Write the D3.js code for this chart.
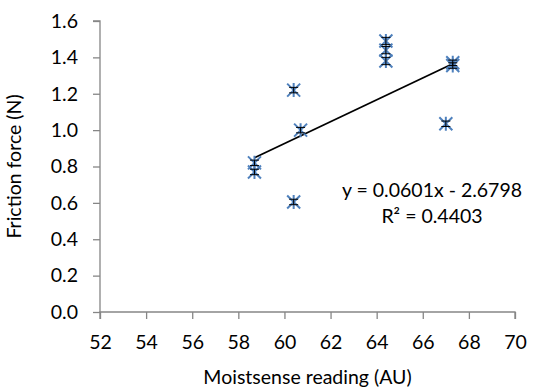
<!DOCTYPE html>
<html>
<head>
<meta charset="utf-8">
<script src="https://cdn.jsdelivr.net/npm/d3@7"></script>
<style>
  html, body { margin: 0; padding: 0; background: #fff; }
  svg text { font-family: Lato, "Open Sans", sans-serif; fill: #000; }
</style>
</head>
<body>
<svg id="chart" width="538" height="392"></svg>
<script>
// Moistsense reading vs friction force, with a linear trendline
const moisture = [58.7, 58.7, 60.4, 60.4, 60.7, 64.4, 64.4, 64.4, 67.3, 67.3, 67.0];
const friction = [0.82, 0.77, 1.22, 0.605, 1.0, 1.49, 1.44, 1.38, 1.37, 1.355, 1.035];
const errorBar = [0.015, 0.015, 0.015, 0.015, 0.015, 0.02, 0.02, 0.02, 0.015, 0.015, 0.015];
const xTicks = [52, 54, 56, 58, 60, 62, 64, 66, 68, 70];
const yTicks = [0, 0.2, 0.4, 0.6, 0.8, 1.0, 1.2, 1.4, 1.6];
const slope = 0.0601, intercept = -2.6798;
const equationText = "y = 0.0601x - 2.6798";
const r2Text = "R² = 0.4403";

const svg = d3.select("#chart");
const x = d3.scaleLinear().domain([52, 70]).range([100, 515]);
const y = d3.scaleLinear().domain([0, 1.6]).range([312, 21]);
const axisColor = "#868686";
const fontSize = 19.5;

// y axis
const yAxis = svg.append("g").attr("transform", `translate(${x(52)},0)`)
  .call(d3.axisLeft(y).tickValues(yTicks).tickFormat(d3.format(".1f")).tickSize(7).tickPadding(15));
// x axis
const xAxis = svg.append("g").attr("transform", `translate(0,${y(0)})`)
  .call(d3.axisBottom(x).tickValues(xTicks).tickFormat(d3.format("d")).tickSize(7).tickPadding(16));

[yAxis, xAxis].forEach(g => {
  g.select(".domain").attr("stroke", axisColor).attr("stroke-width", 1.3);
  g.selectAll(".tick line").attr("stroke", axisColor).attr("stroke-width", 1.3);
  g.selectAll(".tick text").attr("font-size", fontSize).attr("font-family", "Lato, 'Open Sans', sans-serif").attr("fill", "#000");
});
yAxis.selectAll(".domain").attr("d", `M-7,${y(1.6)}H0V${y(0)}`);
xAxis.selectAll(".domain").attr("d", `M${x(52)},7V0H${x(70)}V7`);

// axis titles
svg.append("text").attr("x", (x(52) + x(70)) / 2).attr("y", 384)
  .attr("text-anchor", "middle").attr("font-size", fontSize).text("Moistsense reading (AU)");
svg.append("text").attr("transform", `translate(21,${(y(0) + y(1.6)) / 2}) rotate(-90)`)
  .attr("text-anchor", "middle").attr("font-size", fontSize).text("Friction force (N)");

// trendline over the observed range
const xMin = d3.min(moisture), xMax = d3.max(moisture);
svg.append("line")
  .attr("x1", x(xMin)).attr("y1", y(slope * xMin + intercept))
  .attr("x2", x(xMax)).attr("y2", y(slope * xMax + intercept))
  .attr("stroke", "#000").attr("stroke-width", 1.8);

const pts = moisture.map((m, i) => ({ m, f: friction[i], e: errorBar[i] }));

// star markers
const r = 6.5;
const markers = svg.append("g").selectAll("g").data(pts).join("g")
  .attr("transform", d => `translate(${x(d.m)},${y(d.f)})`);
markers.append("path")
  .attr("d", `M${-r},${-r}L${r},${r}M${-r},${r}L${r},${-r}M0,${-r - 0.5}V${r + 0.5}`)
  .attr("stroke", "#4f81bd").attr("stroke-width", 2).attr("fill", "none");

// error bars
const errs = svg.append("g").selectAll("g").data(pts).join("g");
errs.append("path")
  .attr("d", d => {
    const cx = x(d.m), y1 = y(d.f + d.e), y2 = y(d.f - d.e), w = 4.5;
    return `M${cx},${y1}V${y2}M${cx - w},${y1}H${cx + w}M${cx - w},${y2}H${cx + w}`;
  })
  .attr("stroke", "#000").attr("stroke-width", 1).attr("fill", "none");

// equation labels
svg.append("text").attr("x", 432).attr("y", 197).attr("text-anchor", "middle")
  .attr("font-size", fontSize).text(equationText);
svg.append("text").attr("x", 432).attr("y", 223).attr("text-anchor", "middle")
  .attr("font-size", fontSize).text(r2Text);
</script>
</body>
</html>
